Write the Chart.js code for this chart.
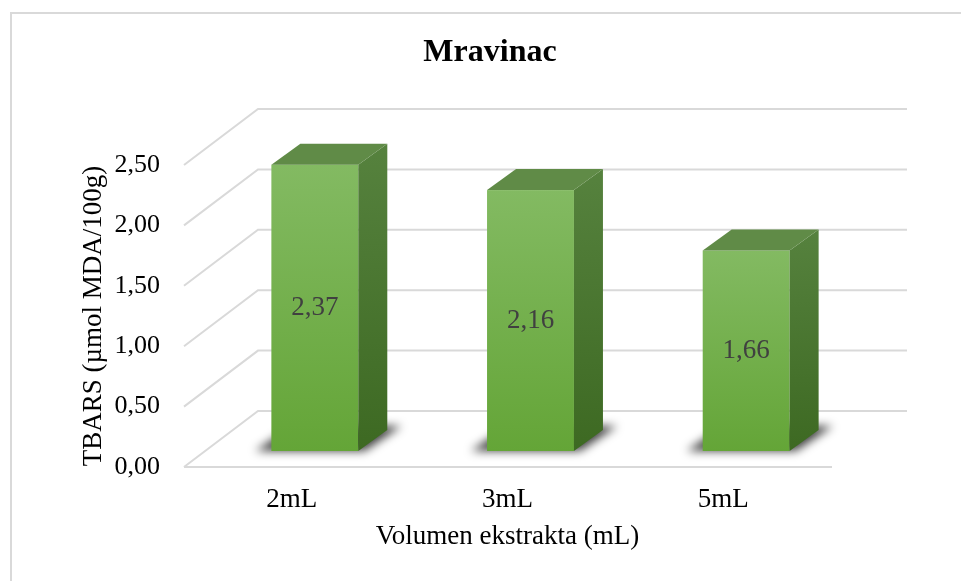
<!DOCTYPE html>
<html lang="hr">
<head>
    <meta charset="UTF-8">
    <title>Mravinac</title>
    <script src="https://cdn.jsdelivr.net/npm/chart.js"></script>
    <style>
        body {
            margin: 0;
            background: white;
            overflow: hidden;
        }
        #frame {
            position: absolute;
            left: 10px;
            top: 12px;
            width: 990px;
            height: 600px;
            border: 2px solid #d9d9d9;
        }
        #wrap {
            position: absolute;
            left: 0;
            top: 0;
            width: 956px;
            height: 567px;
        }
    </style>
</head>
<body>

<div id="frame"><div id="wrap"><canvas id="tbarsChart"></canvas></div></div>

<script>
    const categories = ['2mL', '3mL', '5mL'];
    const tbarsValues = [2.37, 2.16, 1.66];
    const yTicks = [0, 0.5, 1, 1.5, 2, 2.5];

    const SERIF = '"Liberation Serif", "Times New Roman", serif';
    const fmt = v => v.toFixed(2).replace('.', ',');

    // oblique 3D look: wall depth and where the bars sit inside it
    const WALL = { dx: 74, dy: -56, extra: 76 };
    const BAR_FRONT = { dx: 23, dy: -16 };
    const BAR_DEPTH = { dx: 29, dy: -21 };

    const box3d = {
        id: 'box3d',
        beforeDatasetsDraw(chart) {
            const { ctx, chartArea: { left, right }, scales: { y } } = chart;
            ctx.save();
            ctx.strokeStyle = '#d9d9d9';
            ctx.lineWidth = 2;
            yTicks.forEach(v => {
                const yf = y.getPixelForValue(v);
                ctx.beginPath();
                ctx.moveTo(left, yf);
                ctx.lineTo(left + WALL.dx, yf + WALL.dy);
                ctx.lineTo(right + WALL.extra, yf + WALL.dy);
                ctx.stroke();
                if (v === 0) {
                    ctx.beginPath();
                    ctx.moveTo(left, yf);
                    ctx.lineTo(right + 1, yf);
                    ctx.stroke();
                }
            });
            ctx.restore();
        },
        afterDatasetsDraw(chart) {
            const { ctx } = chart;
            const meta = chart.getDatasetMeta(0);
            meta.data.forEach((bar, i) => {
                const { x, y, base, width } = bar.getProps(['x', 'y', 'base', 'width'], true);
                const l = x - width / 2 + BAR_FRONT.dx;
                const r = x + width / 2 + BAR_FRONT.dx;
                const t = y + BAR_FRONT.dy;
                const b = base + BAR_FRONT.dy;
                const dx = BAR_DEPTH.dx, dy = BAR_DEPTH.dy;

                // soft floor shadow
                ctx.save();
                ctx.filter = 'blur(5px)';
                ctx.fillStyle = 'rgba(0,0,0,0.75)';
                ctx.beginPath();
                ctx.moveTo(l - 16, b);
                ctx.lineTo(r + 6, b);
                ctx.lineTo(r + dx + 14, b + dy - 4);
                ctx.lineTo(l + dx - 8, b + dy - 4);
                ctx.closePath();
                ctx.fill();
                ctx.restore();

                ctx.save();
                // front
                let g = ctx.createLinearGradient(0, t, 0, b);
                g.addColorStop(0, '#83ba62');
                g.addColorStop(1, '#64a537');
                ctx.fillStyle = g;
                ctx.fillRect(l, t, r - l, b - t);

                // side
                g = ctx.createLinearGradient(0, t + dy, 0, b);
                g.addColorStop(0, '#56823e');
                g.addColorStop(1, '#3d6922');
                ctx.fillStyle = g;
                ctx.beginPath();
                ctx.moveTo(r, t);
                ctx.lineTo(r + dx, t + dy);
                ctx.lineTo(r + dx, b + dy);
                ctx.lineTo(r, b);
                ctx.closePath();
                ctx.fill();

                // top
                ctx.fillStyle = '#608b47';
                ctx.beginPath();
                ctx.moveTo(l, t);
                ctx.lineTo(l + dx, t + dy);
                ctx.lineTo(r + dx, t + dy);
                ctx.lineTo(r, t);
                ctx.closePath();
                ctx.fill();

                // value label
                ctx.fillStyle = '#404040';
                ctx.font = '27px ' + SERIF;
                ctx.textAlign = 'center';
                ctx.textBaseline = 'middle';
                ctx.fillText(fmt(tbarsValues[i]), (l + r) / 2, (t + b) / 2);
                ctx.restore();
            });
        }
    };

    const ctx = document.getElementById('tbarsChart').getContext('2d');

    new Chart(ctx, {
        type: 'bar',
        data: {
            labels: categories,
            datasets: [{
                label: 'TBARS',
                data: tbarsValues,
                backgroundColor: 'rgba(0,0,0,0)',
                borderWidth: 0,
                barPercentage: 0.403,
                categoryPercentage: 1
            }]
        },
        options: {
            responsive: true,
            maintainAspectRatio: false,
            animation: false,
            devicePixelRatio: 1,
            layout: { padding: { left: 0, right: 0, top: 0, bottom: 24 } },
            scales: {
                x: {
                    grid: { display: false, drawTicks: false },
                    border: { display: false },
                    ticks: { padding: 17, color: '#000', font: { family: SERIF, size: 27 } },
                    title: {
                        display: true,
                        text: 'Volumen ekstrakta (mL)',
                        color: '#000',
                        font: { family: SERIF, size: 27 },
                        padding: { top: 0, bottom: 4 }
                    },
                    afterFit(s) { s.height = 90; }
                },
                y: {
                    min: 0,
                    max: 2.5,
                    grid: { display: false, drawTicks: false },
                    border: { display: false },
                    afterBuildTicks(s) { s.ticks = yTicks.map(v => ({ value: v })); },
                    ticks: {
                        padding: 24,
                        color: '#000',
                        font: { family: SERIF, size: 26 },
                        callback: v => fmt(v)
                    },
                    title: {
                        display: true,
                        text: 'TBARS (µmol MDA/100g)',
                        color: '#000',
                        font: { family: SERIF, size: 27 },
                        padding: { top: 66, bottom: 0 }
                    },
                    afterFit(s) { s.width = 172; }
                },
                // empty right axis only keeps the back wall room on the right
                yRight: {
                    position: 'right',
                    grid: { display: false, drawTicks: false },
                    border: { display: false },
                    ticks: { display: false },
                    afterFit(s) { s.width = 137; }
                }
            },
            plugins: {
                legend: { display: false },
                tooltip: { enabled: false },
                title: {
                    display: true,
                    text: 'Mravinac',
                    color: '#000',
                    font: { family: SERIF, size: 32, weight: 'bold' },
                    padding: { top: 20, bottom: 92.6 }
                }
            }
        },
        plugins: [box3d]
    });
</script>

</body>
</html>
